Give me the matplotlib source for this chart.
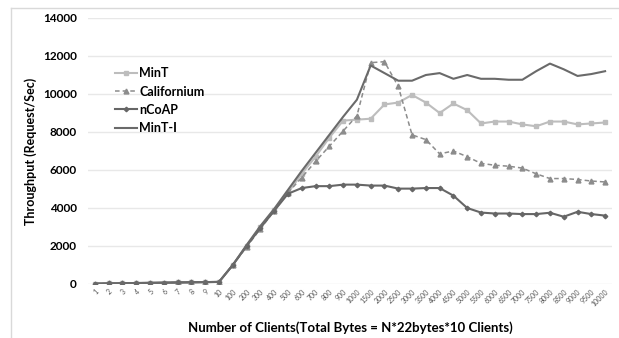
import matplotlib.pyplot as plt
from matplotlib.lines import Line2D

plt.rcParams['font.family'] = ['Lato', 'DejaVu Sans']

# client counts on the x axis (categorical)
clients = [str(i) for i in range(1, 11)] + [str(i) for i in range(100, 1001, 100)] + \
          [str(i) for i in range(1500, 10001, 500)]

low = [20, 30, 40, 50, 60, 70, 80, 90, 100, 110]

mint = low + [1000, 2000, 3000, 3900, 4800, 5800, 6700, 7700, 8600, 8650,
              8700, 9450, 9550, 9950, 9550, 9000, 9500, 9150, 8450, 8550,
              8550, 8400, 8300, 8550, 8550, 8400, 8450, 8500]
californium = low + [1000, 1950, 2900, 3850, 4800, 5600, 6450, 7250, 8050, 8850,
                     11650, 11700, 10400, 7850, 7600, 6850, 7000, 6700, 6350, 6250,
                     6200, 6100, 5800, 5550, 5550, 5500, 5420, 5370]
ncoap = low + [1000, 2000, 2950, 3850, 4750, 5050, 5150, 5150, 5230, 5230,
               5180, 5180, 5020, 5020, 5050, 5050, 4650, 4000, 3760, 3710,
               3710, 3680, 3680, 3750, 3540, 3800, 3680, 3600]
minti = low + [1000, 2050, 3050, 3950, 4950, 5950, 6900, 7850, 8800, 9700,
               11500, 11100, 10700, 10700, 11000, 11100, 10800, 11000, 10800, 10800,
               10750, 10750, 11200, 11600, 11300, 10950, 11050, 11200]

fig = plt.figure(figsize=(6.19, 3.38), dpi=100)
ax = fig.add_axes([88 / 619, 1 - 284 / 338, 524 / 619, 266 / 338])

x = list(range(len(clients)))
ax.plot(x, mint, color='#bdbdbd', lw=1.5, marker='s', ms=3.5, label='MinT')
ax.plot(x, californium, color='#8c8c8c', lw=1.1, ls=(0, (3, 2)), marker='^', ms=3.5, label='Californium')
ax.plot(x, ncoap, color='#666666', lw=1.5, marker='D', ms=2.3, label='nCoAP')
ax.plot(x, minti, color='#6a6a6a', lw=1.5, label='MinT-I')

ax.set_xlim(-0.5, len(clients) - 0.5)
ax.set_ylim(0, 14000)
ax.set_yticks(range(0, 14001, 2000))
ax.set_xticks(x)
ax.set_xticklabels(clients, rotation=45, fontsize=5, color='#555555', ha='right', rotation_mode='anchor')
for lab in ax.get_yticklabels():
    lab.set_fontweight('bold')
    lab.set_fontsize(8.5)
ax.tick_params(axis='both', length=0)
ax.tick_params(axis='x', pad=3)
ax.tick_params(axis='y', pad=8)
ax.grid(axis='y', color='#e8e8e8', lw=1)
ax.set_axisbelow(True)
for s in ax.spines.values():
    s.set_visible(False)

ax.set_xlabel('Number of Clients(Total Bytes = N*22bytes*10 Clients)', fontsize=9.5, fontweight='bold', labelpad=10)
ax.set_ylabel('Throughput (Request/Sec)', fontsize=9, fontweight='bold', labelpad=4)

leg = ax.legend(loc='upper left', bbox_to_anchor=(104 / 619, 1 - 56 / 338), bbox_transform=fig.transFigure,
                frameon=False, handlelength=1.7, handletextpad=0.2, labelspacing=0.5,
                prop={'weight': 'bold', 'size': 9})

# light chart-area border (left and top edges visible)
fig.add_artist(Line2D([11 / 619, 11 / 619], [0, 1 - 8 / 338], transform=fig.transFigure, color='#d9d9d9', lw=1))
fig.add_artist(Line2D([11 / 619, 1], [1 - 8 / 338, 1 - 8 / 338], transform=fig.transFigure, color='#d9d9d9', lw=1))

fig.savefig('out.png', dpi=100)
